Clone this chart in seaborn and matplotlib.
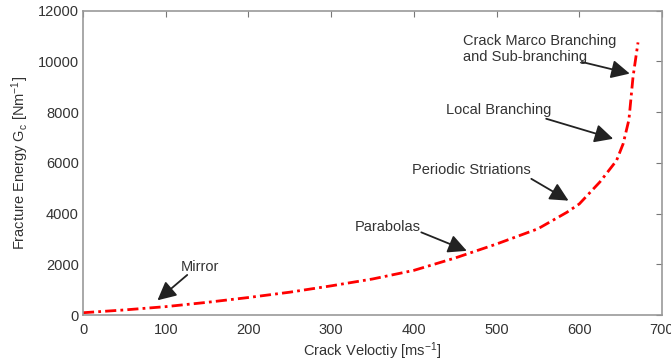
import numpy as np
import pandas as pd
import matplotlib
matplotlib.use("Agg")
import matplotlib.pyplot as plt
import seaborn as sns

# data
velocity = [0, 50, 100, 150, 200, 250, 300, 350, 400, 450, 500, 550,
            585, 600, 625, 645, 653, 660, 665, 671]
energy = [90, 200, 330, 500, 690, 900, 1150, 1420, 1760, 2250, 2800, 3400,
          4050, 4380, 5250, 6090, 6750, 7700, 9400, 10750]

labels = ["Mirror", "Parabolas", "Periodic Striations", "Local Branching",
          "Crack Marco Branching\nand Sub-branching"]
text_pos = [(141, 1900), (369, 3480), (470, 5700), (502, 8070), (460, 10490)]
arrow_tail = [(126, 1580), (409, 3260), (542, 5370), (560, 7740), (603, 9980)]
arrow_head = [(90, 580), (464, 2530), (587, 4510), (641, 6950), (661, 9520)]

df = pd.DataFrame({"v": velocity, "G": energy})

sns.set_style("white")
plt.rcParams["font.family"] = ["Liberation Sans", "DejaVu Sans"]
plt.rcParams["mathtext.default"] = "regular"
txt = "#333333"

fig = plt.figure(figsize=(6.71, 3.63), dpi=100)
ax = fig.add_axes([0.1237, 0.1322, 0.8629, 0.8383])

sns.lineplot(data=df, x="v", y="G", ax=ax, color="#ff0000", lw=2.0,
             linestyle=(0, (4, 1.5, 1, 1.5)))

ax.set_xlim(0, 700)
ax.set_ylim(0, 12000)
ax.set_xticks(range(0, 701, 100))
ax.set_yticks(range(0, 12001, 2000))

for s in ax.spines.values():
    s.set_color("#999999")
    s.set_linewidth(1.2)
ax.tick_params(direction="in", length=4, color="#777777", labelsize=10.5,
               labelcolor=txt, top=True, right=True, width=0.8)
ax.tick_params(axis="x", pad=6)
ax.tick_params(axis="y", pad=3)

ax.set_xlabel("Crack Veloctiy [ms$^{-1}$]", fontsize=10.5, color=txt, labelpad=2)
ax.set_ylabel("Fracture Energy G$_c$ [Nm$^{-1}$]", fontsize=10.5, color=txt, labelpad=5)

for lab, tp, tail, head in zip(labels, text_pos, arrow_tail, arrow_head):
    if "\n" in lab:
        ax.text(tp[0], tp[1], lab, fontsize=10.5, color=txt, ha="left",
                va="center", linespacing=1.25)
    else:
        ax.text(tp[0], tp[1], lab, fontsize=10.5, color=txt, ha="center", va="center")
    ax.annotate("", xy=head, xytext=tail,
                arrowprops=dict(arrowstyle="-|>,head_length=0.7,head_width=0.35",
                                color="#222222", lw=1.3, mutation_scale=16,
                                shrinkA=0, shrinkB=0))

fig.savefig("out.png", dpi=100)
